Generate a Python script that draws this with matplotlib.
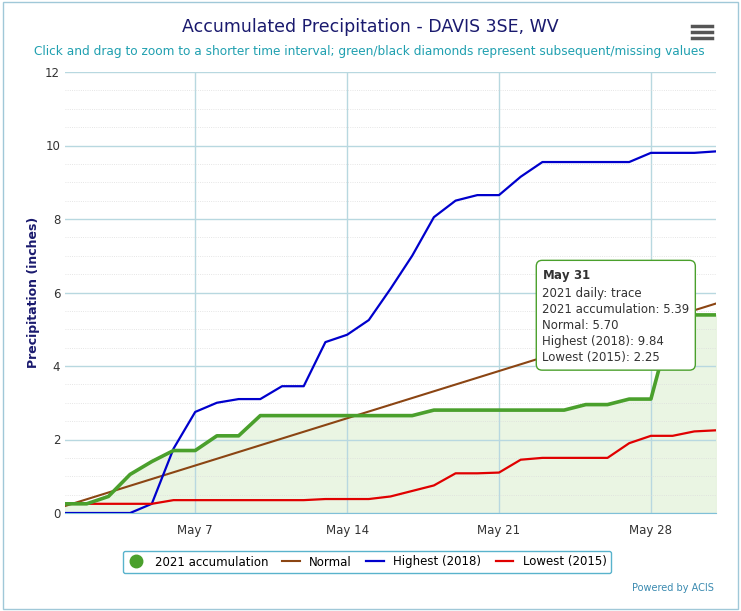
import numpy as np
import matplotlib.pyplot as plt
from matplotlib.patches import FancyBboxPatch

days = list(range(1, 32))
acc_2021 = [0.25, 0.25, 0.45, 1.05, 1.4, 1.7, 1.7, 2.1, 2.1, 2.65, 2.65, 2.65, 2.65, 2.65, 2.65,
            2.65, 2.65, 2.8, 2.8, 2.8, 2.8, 2.8, 2.8, 2.8, 2.95, 2.95, 3.1, 3.1, 5.3, 5.39, 5.39]
highest_2018 = [0, 0, 0, 0, 0.25, 1.75, 2.75, 3.0, 3.1, 3.1, 3.45, 3.45, 4.65, 4.85, 5.25, 6.1,
                7.0, 8.05, 8.5, 8.65, 8.65, 9.15, 9.55, 9.55, 9.55, 9.55, 9.55, 9.8, 9.8, 9.8, 9.84]
lowest_2015 = [0.25, 0.25, 0.25, 0.25, 0.25, 0.35, 0.35, 0.35, 0.35, 0.35, 0.35, 0.35, 0.38, 0.38,
               0.38, 0.45, 0.6, 0.75, 1.08, 1.08, 1.1, 1.45, 1.5, 1.5, 1.5, 1.5, 1.9, 2.1, 2.1, 2.22, 2.25]
normal_days = [1, 31]
normal_vals = [0.19, 5.70]
tick_days = [7, 14, 21, 28]
tick_labels = ["May 7", "May 14", "May 21", "May 28"]

fig = plt.figure(figsize=(7.41, 6.11), dpi=100)
ax = fig.add_axes([65 / 741, 1 - 513 / 611, 651 / 741, 441 / 611])
ax.set_xlim(1, 31)
ax.set_ylim(0, 12)

ax.fill_between(days, acc_2021, color="#e8f4e0", alpha=0.9, zorder=1)
ax.plot(normal_days, normal_vals, color="#8b4513", lw=1.5, zorder=3)
ax.plot(days, highest_2018, color="#0000cc", lw=1.6, zorder=3)
ax.plot(days, lowest_2015, color="#e00000", lw=1.6, zorder=3)
ax.plot(days, acc_2021, color="#4aa02c", lw=2.6, zorder=4)

ax.set_xticks(tick_days)
ax.set_xticklabels(tick_labels)
ax.set_xticks(range(1, 32), minor=True)
ax.set_yticks(range(0, 13, 2))
ax.set_yticks(np.arange(0, 12.1, 0.5), minor=True)
ax.grid(True, which="major", color="#b8d8e0", lw=1)
ax.grid(True, which="minor", axis="y", color="#dddddd", lw=0.6, ls=":")
ax.tick_params(which="both", length=0, labelsize=8.5, colors="#333333")
ax.tick_params(axis="x", pad=8)
for s in ["top", "right", "left"]:
    ax.spines[s].set_visible(False)
ax.spines["bottom"].set_color("#7fc0d8")
ax.set_ylabel("Precipitation (inches)", fontsize=9, fontweight="bold", color="#1a1a6e")

fig.text(0.5, 1 - 27 / 611, "Accumulated Precipitation - DAVIS 3SE, WV", ha="center", va="center",
         fontsize=12.5, color="#1a1a6e")
fig.text(369 / 741, 1 - 51 / 611,
         "Click and drag to zoom to a shorter time interval; green/black diamonds represent subsequent/missing values",
         ha="center", va="center", fontsize=8.7, color="#20a0b0")
fig.text(714 / 741, 1 - 588 / 611, "Powered by ACIS", ha="right", va="center", fontsize=7, color="#3a8ab0")
for yy in [26, 32, 38]:
    fig.add_artist(plt.Line2D([692 / 741, 712 / 741], [1 - yy / 611] * 2, color="#555555", lw=2.5))

ax.text(0.733, 0.555,
        r"$\bf{May\ 31}$" + "\n2021 daily: trace\n2021 accumulation: 5.39\nNormal: 5.70\nHighest (2018): 9.84\nLowest (2015): 2.25",
        transform=ax.transAxes, fontsize=8.5, va="top", ha="left", color="#333333", linespacing=1.3, zorder=6,
        bbox=dict(boxstyle="round,pad=0.5", fc="white", ec="#4aa02c", lw=1))

leg = fig.legend(handles=[
    plt.Line2D([], [], marker="o", color="#4aa02c", ls="none", markersize=9),
    plt.Line2D([], [], color="#8b4513", lw=1.5),
    plt.Line2D([], [], color="#0000cc", lw=1.6),
    plt.Line2D([], [], color="#e00000", lw=1.6)],
    labels=["2021 accumulation", "Normal", "Highest (2018)", "Lowest (2015)"],
    loc="center", bbox_to_anchor=(367 / 741, 1 - 562 / 611), ncol=4, fontsize=8.5,
    frameon=True, fancybox=True, edgecolor="#30a0c0", handlelength=1.5, columnspacing=1.2)

fig.add_artist(FancyBboxPatch((0.004, 0.004), 0.992, 0.992, boxstyle="square,pad=0",
                              fc="none", ec="#a0c8d8", lw=1, transform=fig.transFigure))
fig.savefig("out.png", dpi=100)
